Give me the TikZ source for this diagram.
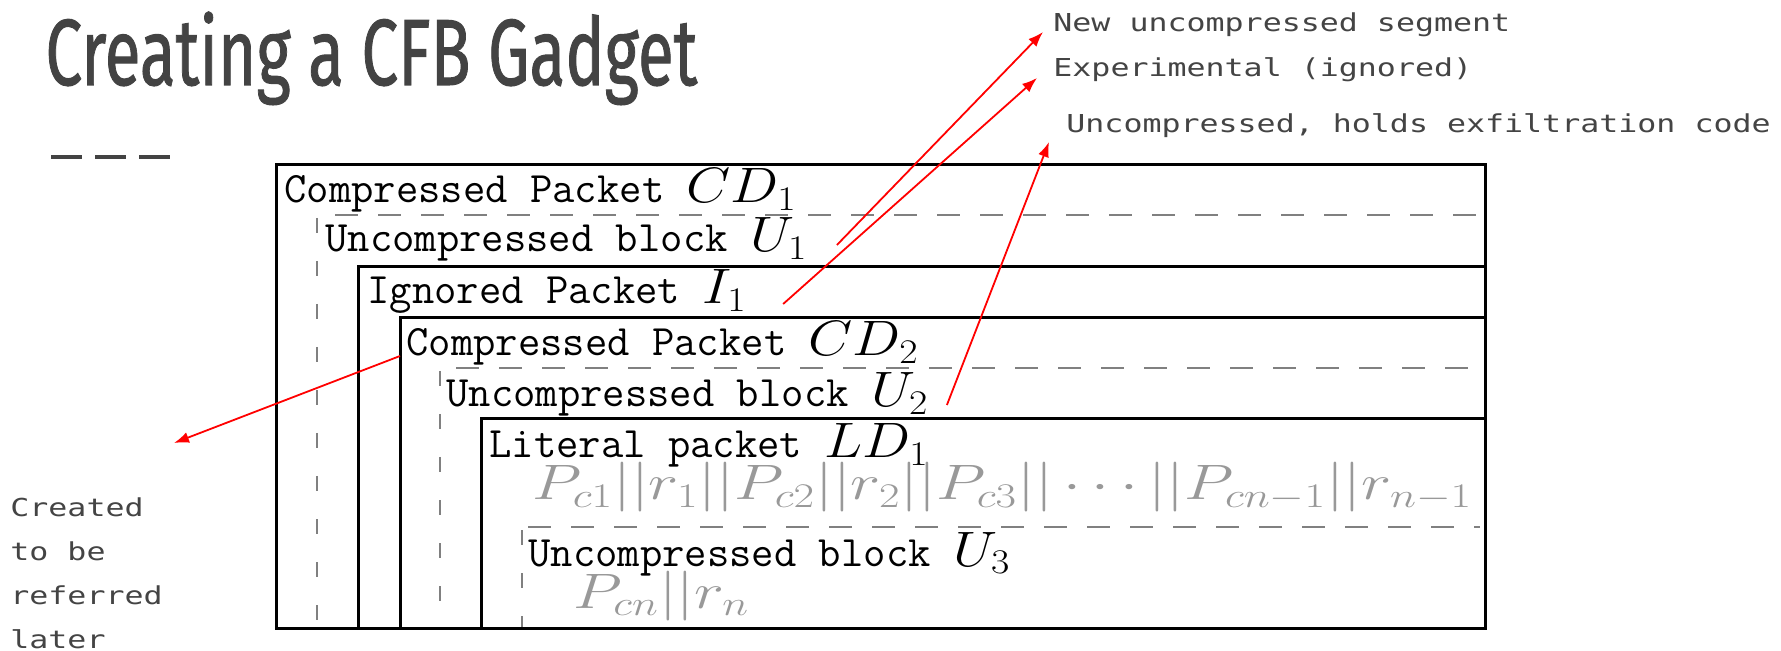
\documentclass[tikz,border=0pt]{standalone}
\usepackage{fontspec}
\usepackage{graphicx}
\usetikzlibrary{arrows.meta}
\newfontfamily\titlefont[FakeBold=1.1]{Fira Sans}
\newfontfamily\notefont[FakeStretch=1.28]{DejaVu Sans Mono}
\definecolor{slidegray}{HTML}{434343}
\definecolor{notegray}{HTML}{444444}
\newcommand{\wide}[2][1.15]{\scalebox{#1}[1]{\fontsize{24}{28}\selectfont$#2$}}
\newcommand{\fitmath}[2]{\resizebox{#1}{\height}{\fontsize{23}{28}\selectfont$#2$}}

\begin{document}
\begin{tikzpicture}[x=0.5pt, y=-0.5pt,
    box/.style={draw, line width=1.5pt},
    dashv/.style={draw=black!50, line width=1.2pt, dash pattern=on 7.5pt off 14pt},
    dashh/.style={draw=black!50, line width=1.2pt, dash pattern=on 11.5pt off 10pt},
    lbl/.style={anchor=base west, inner sep=0pt, font=\fontsize{21.7}{26}\ttfamily},
    data/.style={anchor=base west, inner sep=0pt, text=black!40, font=\fontsize{21.7}{26}\selectfont},
    note/.style={anchor=base west, inner sep=0pt, text=notegray, font=\fontsize{12.35}{22}\notefont},
    pointer/.style={draw=red, line width=0.9pt, -{Latex[length=7.5pt, width=5.5pt]}}
]
    \useasboundingbox (0,0) rectangle (1781,651);

    \node[anchor=base west, inner sep=0pt, text=slidegray, font=\fontsize{47}{50}\titlefont] (title) at (45,85)
        {\resizebox{326pt}{\height}{Creating a CFB Gadget}};
    \draw[slidegray, line width=2pt, dash pattern=on 15.5pt off 6.5pt] (51,157) -- (171,157);

    % dashed blocks
    \draw[dashv] (317,218) -- (317,628);
    \draw[dashh] (335,215) -- (1480,215);
    \draw[dashv] (440,371) -- (440,628);
    \draw[dashh] (456,368) -- (1480,368);
    \draw[dashv] (522,530) -- (522,628);
    \draw[dashh] (528,527) -- (1480,527);

    % packets
    \draw[box] (276,165) rectangle (1485,628);
    \draw[box] (358,267) rectangle (1485,628);
    \draw[box] (400,318) rectangle (1485,628);
    \draw[box] (481,419) rectangle (1485,628);

    \node[lbl] (cd1) at (284,203) {Compressed Packet \wide{CD_1}};
    \node[lbl] (u1) at (325,252) {Uncompressed block \wide{U_1}};
    \node[lbl] (i1) at (367,304) {Ignored Packet \wide{I_1}};
    \node[lbl] (cd2) at (406,356) {Compressed Packet \wide{CD_2}};
    \node[lbl] (u2) at (446,407) {Uncompressed block \wide{U_2}};
    \node[lbl] (ld1) at (489,458) {Literal packet \wide{LD_1}};
    \node[data] (plain) at (532,500) {\fitmath{470pt}{P_{c1}||r_1||P_{c2}||r_2||P_{c3}||\cdots||P_{cn-1}||r_{n-1}}};
    \node[data] (last) at (573,608) {\fitmath{88pt}{P_{cn}||r_n}};
    \node[lbl] (u3) at (528,566) {Uncompressed block \wide{U_3}};

    % notes
    \node[note] (new) at (1053,32) {New uncompressed segment};
    \node[note] (exp) at (1053,77) {Experimental (ignored)};
    \node[note] (unc) at (1066,133) {Uncompressed, holds exfiltration code};
    \node[note, anchor=north west, align=left] (created) at (10,497) {Created\\to be\\referred\\later};
    \coordinate (ref) at (174,443);

    \draw[pointer] ([xshift=14.5pt, yshift=3.5pt]u1.base east) -- ([xshift=-5pt]new.base west);
    \draw[pointer] ([xshift=18pt]i1.base east) -- ([xshift=-8pt, yshift=-0.5pt]exp.base west);
    \draw[pointer] ([xshift=9pt, yshift=1pt]u2.base east) -- ([xshift=-8.5pt, yshift=-4.5pt]unc.base west);
    \draw[pointer] ([xshift=-3pt]cd2.base west) -- (ref);
\end{tikzpicture}
\end{document}
